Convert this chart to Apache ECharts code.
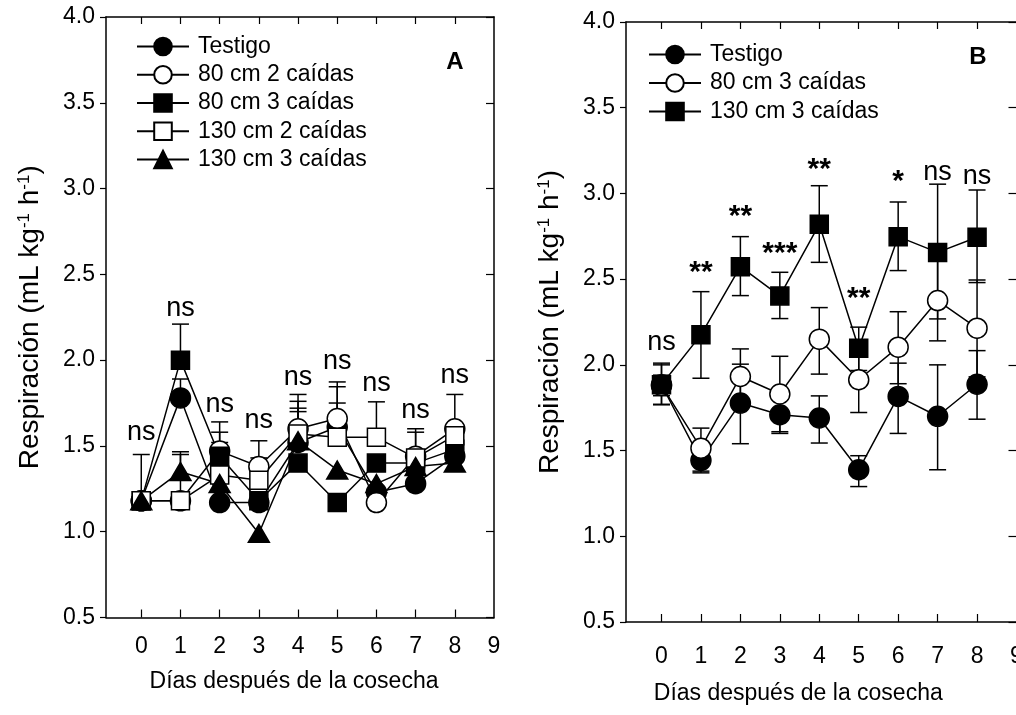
<!DOCTYPE html>
<html><head><meta charset="utf-8">
<script src="https://cdn.jsdelivr.net/npm/echarts@6/dist/echarts.min.js"></script>
<style>html,body{margin:0;padding:0;background:#fff}#c{width:1016px;height:715px}</style>
</head><body><div id="c"></div>
<script>
// ---------- data ----------
const days = [0, 1, 2, 3, 4, 5, 6, 7, 8];
const xTickLabels = [0, 1, 2, 3, 4, 5, 6, 7, 8, 9];
const xTickMarks = [0, 1, 2, 3, 4, 5, 6, 7, 8];

// Panel A
const namesA = ['Testigo', '80 cm 2 caídas', '80 cm 3 caídas', '130 cm 2 caídas', '130 cm 3 caídas'];
const testigoA   = [1.18, 1.78, 1.17, 1.17, 1.52, 1.61, 1.23, 1.28, 1.44];
const cm80c2A    = [1.18, 1.18, 1.47, 1.38, 1.60, 1.66, 1.17, 1.44, 1.60];
const cm80c3A    = [1.18, 2.00, 1.44, 1.18, 1.40, 1.17, 1.40, 1.40, 1.48];
const cm130c2A   = [1.18, 1.18, 1.33, 1.30, 1.57, 1.55, 1.55, 1.43, 1.56];
const cm130c3A   = [1.18, 1.35, 1.28, 0.99, 1.53, 1.36, 1.28, 1.38, 1.40];
// upper error-bar ends (null = not visible)
const testigoA_hi = [1.45, 1.89, null, null, 1.70, 1.845, null, null, null];
const cm80c2A_hi  = [null, 1.45, 1.58, 1.53, 1.80, 1.873, null, 1.60, 1.80];
const cm80c3A_hi  = [null, 2.21, 1.64, null, null, null, 1.446, 1.475, null];
const cm130c2A_hi = [null, null, 1.52, 1.43, 1.76, 1.75, 1.757, 1.58, null];
const cm130c3A_hi = [null, 1.466, null, null, 1.72, null, null, null, null];
const sigA_text = ['ns', 'ns', 'ns', 'ns', 'ns', 'ns', 'ns', 'ns', 'ns'];
const sigA_y    = [1.58, 2.30, 1.743, 1.65, 1.90, 1.994, 1.866, 1.708, 1.913];

// Panel B
const namesB = ['Testigo', '80 cm 3 caídas', '130 cm 3 caídas'];
const testigoB    = [1.884, 1.443, 1.777, 1.709, 1.69, 1.388, 1.816, 1.70, 1.887];
const testigoB_lo = [1.77, 1.38, 1.54, 1.60, 1.544, 1.29, 1.60, 1.388, 1.683];
const testigoB_hi = [2.00, 1.51, 2.004, 1.82, 1.819, 1.47, 2.01, 2.00, 2.083];
const cm80c3B     = [1.88, 1.514, 1.932, 1.83, 2.15, 1.913, 2.103, 2.375, 2.214];
const cm80c3B_lo  = [1.82, 1.37, 1.77, 1.61, 1.946, 1.722, 1.89, 2.14, 1.93];
const cm80c3B_hi  = [1.94, 1.631, 2.093, 2.05, 2.334, 2.10, 2.31, 2.61, 2.495];
const cm130c3B    = [1.884, 2.175, 2.573, 2.402, 2.82, 2.097, 2.748, 2.656, 2.744];
const cm130c3B_lo = [1.767, 1.922, 2.404, 2.27, 2.598, 1.967, 2.55, 2.268, 2.48];
const cm130c3B_hi = [2.01, 2.427, 2.748, 2.54, 3.045, 2.22, 2.95, 3.054, 3.02];
const sigB_text = ['ns', '**', '**', '***', '**', '**', '*', 'ns', 'ns'];
const sigB_y    = [2.128, 2.536, 2.863, 2.647, 3.137, 2.385, 3.067, 3.12, 3.098];

// ---------- helpers ----------
const FONT = '"Liberation Sans", Arial, sans-serif';
const BLACK = '#000';

function lineSeries(panel, name, vals, symbol, filled, size, idx) {
  return {
    type: 'line', name: panel + '@' + name,
    xAxisIndex: idx, yAxisIndex: idx,
    data: days.map((d, i) => [d, vals[i]]),
    symbol: symbol, symbolSize: size, showAllSymbol: true,
    lineStyle: { color: BLACK, width: 1.5 },
    itemStyle: { color: filled ? BLACK : '#fff', borderColor: BLACK, borderWidth: 1.5, opacity: 1 },
    emphasis: { disabled: true }, silent: true, z: 3, animation: false
  };
}
function errSeries(vals, lo, hi, idx, z) {
  const data = [];
  days.forEach((d, i) => {
    const l = lo ? lo[i] : null, h = hi ? hi[i] : null;
    if (l == null && h == null) return;
    data.push([d, vals[i], l == null ? vals[i] : l, h == null ? vals[i] : h]);
  });
  return {
    type: 'custom', xAxisIndex: idx, yAxisIndex: idx, z: z, silent: true, animation: false,
    data: data,
    renderItem: function (params, api) {
      const x = api.value(0), m = api.value(1), l = api.value(2), h = api.value(3);
      const pL = api.coord([x, l]), pH = api.coord([x, h]);
      const cw = 8.5;
      const st = { stroke: BLACK, lineWidth: 1.5 };
      const ch = [{ type: 'line', shape: { x1: pL[0], y1: pL[1], x2: pH[0], y2: pH[1] }, style: st }];
      if (h > m) ch.push({ type: 'line', shape: { x1: pH[0] - cw, y1: pH[1], x2: pH[0] + cw, y2: pH[1] }, style: st });
      if (l < m) ch.push({ type: 'line', shape: { x1: pL[0] - cw, y1: pL[1], x2: pL[0] + cw, y2: pL[1] }, style: st });
      return { type: 'group', children: ch };
    }
  };
}
function sigSeries(texts, ys, idx) {
  return {
    type: 'custom', xAxisIndex: idx, yAxisIndex: idx, z: 5, silent: true, animation: false,
    data: days.map((d, i) => [d, ys[i]]),
    renderItem: function (params, api) {
      const p = api.coord([api.value(0), api.value(1)]);
      const t = texts[params.dataIndex];
      const font = t === 'ns' ? '27px ' + FONT : 'bold 30px ' + FONT;
      return { type: 'text', x: p[0], y: p[1],
        style: { text: t, font: font, fill: BLACK, align: 'center', verticalAlign: 'middle' } };
    }
  };
}
function xAxes(gridIndex, labelMargin, nameGap, namePad) {
  return [
    {
      type: 'value', gridIndex, min: -0.9, max: 9, position: 'bottom',
      name: 'Días después de la cosecha', nameLocation: 'middle', nameGap: nameGap,
      nameTextStyle: { fontSize: 23, color: BLACK, fontFamily: FONT, padding: namePad },
      axisLine: { show: true, onZero: false, lineStyle: { color: BLACK, width: 1.5 } },
      axisTick: { show: true, inside: true, length: 8, customValues: xTickMarks, lineStyle: { color: BLACK, width: 1.2 } },
      axisLabel: { show: true, customValues: xTickLabels, margin: labelMargin, fontSize: 23, color: BLACK, fontFamily: FONT },
      splitLine: { show: false }
    },
    {
      type: 'value', gridIndex, min: -0.9, max: 9, position: 'top',
      axisLine: { show: true, onZero: false, lineStyle: { color: BLACK, width: 1.5 } },
      axisTick: { show: true, inside: true, length: 7, customValues: xTickMarks, lineStyle: { color: BLACK, width: 1.2 } },
      axisLabel: { show: false }, splitLine: { show: false }
    }
  ];
}
function yAxes(gridIndex, nameGap) {
  return [
    {
      type: 'value', gridIndex, min: 0.5, max: 4.0, interval: 0.5, position: 'left',
      name: 'Respiración (mL kg{sup|-1} h{sup|-1})', nameLocation: 'middle', nameGap: nameGap,
      nameTextStyle: {
        fontSize: 28, color: BLACK, fontFamily: FONT,
        rich: { sup: { fontSize: 17, color: BLACK, fontFamily: FONT, verticalAlign: 'top', padding: [0, 0, 9, 0] } }
      },
      axisLine: { show: true, onZero: false, lineStyle: { color: BLACK, width: 1.5 } },
      axisTick: { show: true, inside: false, length: 6, lineStyle: { color: BLACK, width: 1.2 } },
      axisLabel: { show: true, margin: 11, fontSize: 23, color: BLACK, fontFamily: FONT, formatter: v => v.toFixed(1) },
      splitLine: { show: false }
    },
    {
      type: 'value', gridIndex, min: 0.5, max: 4.0, interval: 0.5, position: 'right',
      axisLine: { show: true, onZero: false, lineStyle: { color: BLACK, width: 1.5 } },
      axisTick: { show: true, inside: true, length: 8, lineStyle: { color: BLACK, width: 1.2 } },
      axisLabel: { show: false }, splitLine: { show: false }
    }
  ];
}

// ---------- chart ----------
const chart = echarts.init(document.getElementById('c'), null, { renderer: 'canvas' });
const symA = [['circle', true, 20], ['circle', false, 20], ['rect', true, 18], ['rect', false, 18], ['triangle', true, [21, 18]]];
const valsA = [testigoA, cm80c2A, cm80c3A, cm130c2A, cm130c3A];
const hiA = [testigoA_hi, cm80c2A_hi, cm80c3A_hi, cm130c2A_hi, cm130c3A_hi];
const symB = [['circle', true, 20], ['circle', false, 20], ['rect', true, 18]];
const valsB = [testigoB, cm80c3B, cm130c3B];
const loB = [testigoB_lo, cm80c3B_lo, cm130c3B_lo];
const hiB = [testigoB_hi, cm80c3B_hi, cm130c3B_hi];

const series = [];
namesA.forEach((n, i) => series.push(errSeries(valsA[i], null, hiA[i], 0, 1)));
namesA.forEach((n, i) => series.push(lineSeries('A', n, valsA[i], symA[i][0], symA[i][1], symA[i][2], 0)));
namesB.forEach((n, i) => series.push(errSeries(valsB[i], loB[i], hiB[i], 2, 1)));
namesB.forEach((n, i) => series.push(lineSeries('B', n, valsB[i], symB[i][0], symB[i][1], symB[i][2], 2)));
series.push(sigSeries(sigA_text, sigA_y, 0));
series.push(sigSeries(sigB_text, sigB_y, 2));

const legendCommon = {
  orient: 'vertical', itemWidth: 52, itemHeight: 22, selectedMode: false,
  formatter: name => name.split('@')[1],
  textStyle: { fontSize: 23, color: BLACK, fontFamily: FONT, padding: [0, 0, 0, 4] }
};

chart.setOption({
  animation: false,
  textStyle: { fontFamily: FONT },
  grid: [
    { left: 106, top: 17, width: 388, height: 600.5, outerBoundsMode: 'none', containLabel: false },
    { left: 626, top: 22, width: 390.5, height: 600, outerBoundsMode: 'none', containLabel: false }
  ],
  xAxis: [...xAxes(0, 18, 53, [0, 12, 0, 0]), ...xAxes(1, 23, 60, [0, 46, 0, 0])],
  yAxis: [...yAxes(0, 62), ...yAxes(1, 62)],
  legend: [
    Object.assign({ left: 131, top: 30, itemGap: 5.25, data: namesA.map(n => 'A@' + n) }, legendCommon),
    Object.assign({ left: 643, top: 38, itemGap: 5.5, data: namesB.map(n => 'B@' + n) }, legendCommon)
  ],
  graphic: [
    { type: 'text', x: 455, y: 62, style: { text: 'A', font: 'bold 24px ' + FONT, fill: BLACK, align: 'center', verticalAlign: 'middle' } },
    { type: 'text', x: 978, y: 57, style: { text: 'B', font: 'bold 24px ' + FONT, fill: BLACK, align: 'center', verticalAlign: 'middle' } }
  ],
  series: series
});
</script>
</body></html>
